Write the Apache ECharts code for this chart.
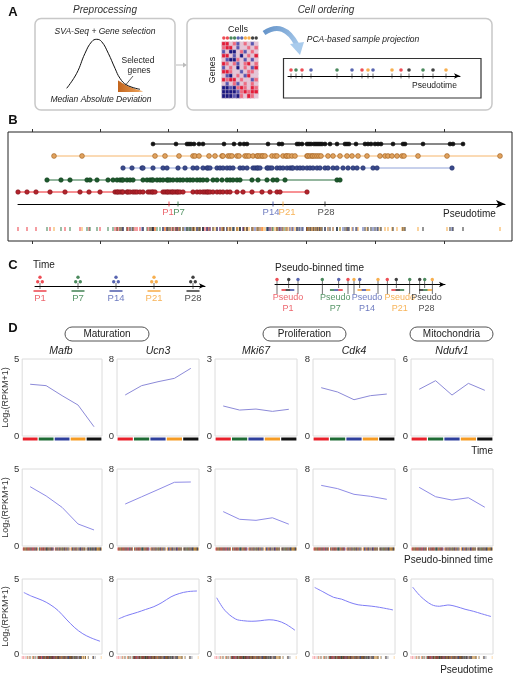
<!DOCTYPE html>
<html><head><meta charset="utf-8">
<script src="https://cdn.jsdelivr.net/npm/echarts@6/dist/echarts.min.js"></script>
<style>html,body{margin:0;padding:0;background:#fff}#c{width:516px;height:677px}</style>
</head><body><div id="c"></div>
<script>
const FONT = '"Liberation Sans", Arial, Helvetica, sans-serif';

// ---------------- DATA ----------------
const stages = ['P1', 'P7', 'P14', 'P21', 'P28'];
const stageColors = ['#e8202a', '#1e6b34', '#2e3f9c', '#f59b23', '#111111'];
const stageLabelColors = ['#e8404a', '#2a7a40', '#4a5ab0', '#f5a030', '#222222'];

// Panel B: pseudotime of every cell, per collection stage (axis units 0-487)
const ptP1 = [0,9,18,32,47,62,71,82,97,99,100,102,104,105,109,110,112,115,117,119,122,125,130,132,134,135,137,145,147,149,150,152,154,155,157,159,160,162,165,175,179,182,185,187,189,190,192,195,199,202,205,209,212,219,225,234,244,252,259,262,289];
const ptP7 = [29,43,52,69,72,79,90,95,99,102,104,105,109,112,115,125,129,132,134,135,139,142,145,149,150,152,155,159,162,165,169,172,175,179,182,185,189,195,199,204,209,212,215,219,222,234,240,249,255,259,267,319,322];
const ptP14 = [105,114,124,125,135,145,149,160,167,175,179,185,189,190,192,199,202,205,209,212,215,222,225,229,235,237,239,240,242,249,250,252,254,259,262,265,269,272,274,275,279,282,285,289,292,295,299,302,307,310,315,319,325,330,335,339,345,355,359,434];
const ptP21 = [36,64,137,147,161,175,177,181,191,197,204,205,210,212,214,219,221,227,229,231,235,239,240,242,244,245,247,254,257,259,265,268,269,271,274,277,289,290,292,294,295,297,299,301,303,310,315,322,329,334,340,349,362,367,370,374,379,384,386,400,429,482];
const ptP28 = [135,158,169,171,173,176,181,185,206,216,222,226,229,250,261,264,279,281,284,289,291,293,296,298,300,302,304,307,312,319,327,329,331,338,347,350,353,357,360,363,375,385,387,405,432,435,445];
const stagePt = [151, 160, 255, 265, 307];
const frameTickValues = [24, 92, 160, 229, 298, 367, 436];

// Panel A: MAD distribution
const bellX = [0.7, 10.7, 19, 25.7, 30.7, 35.7, 42.3, 49, 54, 60.7, 74];
const bellY = [3.7, 18.7, 38.7, 50.3, 52.7, 50.3, 38.7, 23.7, 13.7, 7, 2.7];
const tailX = [52, 54, 57, 60.7, 64, 68, 72, 77];
const tailY = [11.5, 10.5, 8.6, 6.6, 5.0, 3.6, 2.2, 0.6];
// Panel A: expression heatmap (genes x cells)
const heatRows = [
  [2,2,0,1,-1,0,1,0,-1,0],
  [1,2,2,0,-1,0,0,1,0,1],
  [-1,0,-2,-2,0,1,-1,0,1,0],
  [2,2,0,-1,0,-2,0,1,0,2],
  [0,-1,-2,-2,1,0,-1,0,-1,0],
  [2,1,0,1,-1,0,1,2,0,1],
  [-1,0,1,0,-2,0,1,0,-1,2],
  [2,2,1,0,0,-1,0,1,1,0],
  [0,-1,-2,0,1,0,-1,2,0,0],
  [2,1,2,2,0,1,0,0,-1,1],
  [0,-1,0,1,-1,0,1,0,1,0],
  [-2,-2,-1,-2,1,2,1,0,2,1],
  [-2,-2,-2,-2,-1,1,2,1,2,2],
  [-2,-2,-2,-1,-2,1,0,2,1,0]
];
const heatCellStage = [0,0,1,1,2,2,3,3,4,4];
const projPt = [3, 8, 14, 23, 49, 64, 74, 80, 85, 104, 113, 121, 135, 145, 158];
const projStage = [0, 1, 0, 2, 1, 2, 0, 3, 2, 3, 0, 4, 1, 4, 3];

// Panel C
const timeGroupPos = [5, 43, 81, 119, 158];
const binnedPt = [2, 13.7, 23, 47.3, 63.7, 73, 79, 84.7, 103, 112.3, 121.3, 134.7, 144.7, 149.7, 157.3];
const binnedStage = [0, 4, 2, 1, 2, 0, 3, 2, 3, 0, 4, 1, 4, 1, 3];

// Panel D
const genes = ['Mafb', 'Ucn3', 'Mki67', 'Cdk4', 'Ndufv1'];
const geneMax = [5, 8, 3, 8, 6];
const timeMafb = [3.36, 3.27, 2.62, 2.01, 0.60];
const timeUcn3 = [4.26, 5.23, 5.64, 5.99, 7.03];
const timeMki67 = [1.17, 1.01, 1.05, 0.96, 1.04];
const timeCdk4 = [5.02, 4.57, 3.77, 4.19, 4.36];
const timeNdufv1 = [3.64, 4.31, 3.19, 4.10, 3.56];
const binMafb = [3.85, 3.25, 2.51, 1.43, 1.04];
const binUcn3 = [4.36, 5.11, 5.86, 6.62, 6.65];
const binMki67 = [1.34, 1.04, 1.00, 1.10, 0.85];
const binCdk4 = [6.30, 5.96, 5.37, 5.16, 4.85];
const binNdufv1 = [4.57, 3.84, 3.58, 3.76, 3.02];
const curvePt = [10, 58, 122, 170, 219, 268, 321, 370, 419, 475];
const curveMafb = [4.1, 3.85, 3.58, 3.3, 2.9, 2.33, 1.75, 1.35, 1.08, 0.85];
const curveUcn3 = [3.75, 4.1, 4.45, 4.75, 5.05, 5.5, 6.1, 6.45, 6.65, 6.72];
const curveMki67 = [2.25, 1.75, 1.4, 1.33, 1.31, 1.33, 1.37, 1.33, 1.2, 0.95];
const curveCdk4 = [7.1, 6.65, 6.05, 5.85, 5.5, 5.25, 5.15, 5.05, 4.9, 4.7];
const curveNdufv1 = [5.35, 4.6, 3.95, 3.82, 3.92, 3.8, 3.58, 3.42, 3.22, 3.0];

const timeMeans = [timeMafb, timeUcn3, timeMki67, timeCdk4, timeNdufv1];
const binMeans = [binMafb, binUcn3, binMki67, binCdk4, binNdufv1];
const curves = [curveMafb, curveUcn3, curveMki67, curveCdk4, curveNdufv1];

// ---------------- BUILD ----------------
const grids = [], xAxes = [], yAxes = [], series = [], graphics = [], visualMaps = [];
function addGrid(g, xa, ya) {
  const gi = grids.length; grids.push(g);
  xa.gridIndex = gi; ya.gridIndex = gi;
  xAxes.push(xa); yAxes.push(ya);
  return { x: xAxes.length - 1, y: yAxes.length - 1 };
}
function vAxis(min, max, extra) {
  return Object.assign({ type: 'value', min, max, show: false, splitLine: { show: false } }, extra || {});
}
function cAxis(data, extra) {
  return Object.assign({ type: 'category', data, show: false }, extra || {});
}
function arrowAxis(min, max, sz) {
  return { type: 'value', min, max, show: true,
    axisLine: { show: true, onZero: true, symbol: ['none', 'arrow'], symbolSize: sz || [4, 6], lineStyle: { color: '#000', width: 1 } },
    axisTick: { show: false }, axisLabel: { show: false }, splitLine: { show: false } };
}
function txt(x, y, text, size, o) {
  o = o || {};
  graphics.push({ type: 'text', x, y, rotation: o.rot || 0, z: 100,
    style: { text, fontSize: size, fontFamily: FONT, fontStyle: o.italic ? 'italic' : 'normal',
      fontWeight: o.bold ? 'bold' : 'normal', fill: o.color || '#222',
      align: o.align || 'center', verticalAlign: 'middle', textAlign: o.align || 'center', textVerticalAlign: 'middle' } });
}

// ===== Panel A =====
txt(13, 12.5, 'A', 13, { bold: true, color: '#111' });
txt(105, 10, 'Preprocessing', 10, { italic: true, color: '#333' });
txt(326, 10, 'Cell ordering', 10, { italic: true, color: '#333' });
graphics.push({ type: 'rect', shape: { x: 35, y: 18.5, width: 140, height: 91.5, r: 6 }, style: { fill: 'none', stroke: '#c8c8c8', lineWidth: 1.5 } });
graphics.push({ type: 'rect', shape: { x: 187, y: 18.5, width: 305, height: 91.5, r: 6 }, style: { fill: 'none', stroke: '#c8c8c8', lineWidth: 1.5 } });
graphics.push({ type: 'line', shape: { x1: 176, y1: 65, x2: 184, y2: 65 }, style: { stroke: '#bbb', lineWidth: 1 } });
graphics.push({ type: 'polygon', shape: { points: [[183, 62.5], [187, 65], [183, 67.5]] }, style: { fill: '#bbb' } });
txt(105, 32, 'SVA-Seq + Gene selection', 8.5, { italic: true });
txt(138, 61, 'Selected', 8.5);
txt(139, 71, 'genes', 8.5);
graphics.push({ type: 'line', shape: { x1: 133, y1: 76, x2: 124, y2: 87 }, style: { stroke: '#333', lineWidth: 0.8 } });
txt(101, 100, 'Median Absolute Deviation', 8.5, { italic: true });
txt(238, 30, 'Cells', 9);
txt(212.5, 70, 'Genes', 9, { rot: Math.PI / 2 });
txt(363, 39.5, 'PCA-based sample projection', 8.5, { italic: true });
graphics.push({ type: 'bezierCurve', shape: { x1: 264, y1: 33, cpx1: 284, cpy1: 20, x2: 297, y2: 45 },
  style: { stroke: { type: 'linear', x: 0, y: 0, x2: 1, y2: 1, colorStops: [{ offset: 0, color: '#5f8fc6' }, { offset: 1, color: '#a9cbec' }] }, lineWidth: 5, fill: 'none' } });
graphics.push({ type: 'polygon', shape: { points: [[290, 44], [304, 42], [300, 55]] }, style: { fill: '#a9cbec' } });
graphics.push({ type: 'rect', shape: { x: 283.5, y: 58.5, width: 197.5, height: 39.5 }, style: { fill: 'none', stroke: '#333', lineWidth: 1.2 } });
txt(412, 86, 'Pseudotime', 8.5, { align: 'left' });

// bell curve
let ax = addGrid({ left: 66, top: 38, width: 80, height: 54 }, vAxis(0, 80), vAxis(0, 54));
series.push({ type: 'line', xAxisIndex: ax.x, yAxisIndex: ax.y, smooth: 0.4, symbol: 'none', z: 2,
  data: tailX.map((x, i) => [x, tailY[i]]), lineStyle: { width: 0 },
  areaStyle: { opacity: 1, color: { type: 'linear', x: 0, y: 0, x2: 1, y2: 0, colorStops: [{ offset: 0, color: '#c2641c' }, { offset: 1, color: '#f0a65c' }] } } });
series.push({ type: 'line', xAxisIndex: ax.x, yAxisIndex: ax.y, smooth: 0.45, symbol: 'none', z: 3,
  data: bellX.map((x, i) => [x, bellY[i]]), lineStyle: { color: '#111', width: 1 } });

// heatmap
const colIdx = heatRows[0].map((_, i) => i);
const rowIdx = heatRows.map((_, i) => i);
ax = addGrid({ left: 222, top: 42, width: 36, height: 56 }, cAxis(colIdx), cAxis(rowIdx, { inverse: true }));
const heatData = [];
heatRows.forEach((r, ri) => r.forEach((v, ci) => heatData.push([ci, ri, v])));
visualMaps.push({ type: 'continuous', min: -2, max: 2, show: false, seriesIndex: series.length,
  inRange: { color: ['#1b1880', '#5a56b0', '#e6c4d6', '#ee6a80', '#e31c38'] } });
series.push({ type: 'heatmap', xAxisIndex: ax.x, yAxisIndex: ax.y, data: heatData,
  itemStyle: { borderColor: 'rgba(225,205,218,0.9)', borderWidth: 0.5 } });
ax = addGrid({ left: 222, top: 36.5, width: 36, height: 3 }, cAxis(colIdx), vAxis(0, 1));
series.push({ type: 'scatter', xAxisIndex: ax.x, yAxisIndex: ax.y, symbolSize: 3.4, clip: false,
  data: heatCellStage.map((s, i) => ({ value: [i, 0.5], itemStyle: { color: stageColors[s] } })) });

// projection axis
ax = addGrid({ left: 288, top: 66, width: 172, height: 10 }, arrowAxis(0, 172), vAxis(0, 10));
series.push({ type: 'scatter', xAxisIndex: ax.x, yAxisIndex: ax.y, symbol: 'rect', symbolSize: [0.8, 5], clip: false,
  itemStyle: { color: '#222' }, data: projPt.map(p => [p, 0]) });
series.push({ type: 'scatter', xAxisIndex: ax.x, yAxisIndex: ax.y, symbolSize: 3.6, symbolOffset: [0, -6], clip: false,
  data: projPt.map((p, i) => ({ value: [p, 0], itemStyle: { color: stageColors[projStage[i]] } })) });

// ===== Panel B =====
txt(13, 120, 'B', 13, { bold: true, color: '#111' });
grids.push({ left: 8, top: 132, width: 504, height: 109, show: true, borderColor: '#222', borderWidth: 1 });
const fgi = grids.length - 1;
[['bottom'], ['top']].forEach(([pos]) => xAxes.push({ type: 'value', gridIndex: fgi, position: pos, min: 0, max: 504, show: true,
  axisLine: { show: false }, axisLabel: { show: false }, splitLine: { show: false },
  axisTick: { show: true, length: 3, customValues: frameTickValues, lineStyle: { color: '#333', width: 1 } } }));
yAxes.push(vAxis(0, 1, { gridIndex: fgi }));

ax = addGrid({ left: 18, top: 132, width: 487, height: 108 }, arrowAxis(0, 487, [6, 9]), vAxis(-3, 6));
const stagePts = [ptP1, ptP7, ptP14, ptP21, ptP28];
const rowStyle = [
  { line: '#f0242a', fill: '#b3242c', border: '#7d1119', size: 4.5 },
  { line: '#2a6e3e', fill: '#1e5a2e', border: '#11401d', size: 4.5 },
  { line: '#90a2d8', fill: '#3b4b8c', border: '#1f2b66', size: 4.5 },
  { line: '#f6b56a', fill: '#e0a25e', border: '#9c5c1c', size: 4.8 },
  { line: '#111111', fill: '#111111', border: '#111111', size: 4 }
];
stagePts.forEach((arr, s) => {
  const st = rowStyle[s];
  series.push({ type: 'line', xAxisIndex: ax.x, yAxisIndex: ax.y, data: arr.slice().sort((a, b) => a - b).map(p => [p, s + 1]),
    symbol: 'circle', symbolSize: st.size, showSymbol: true, showAllSymbol: true, clip: false,
    lineStyle: { color: st.line, width: 1 }, itemStyle: { color: st.fill, borderColor: st.border, borderWidth: 0.6 } });
});
const allCells = [];
stagePts.forEach((arr, s) => arr.forEach(p => allCells.push([p, s])));
allCells.sort((a, b) => a[0] - b[0]);
series.push({ type: 'scatter', xAxisIndex: ax.x, yAxisIndex: ax.y, symbol: 'rect', symbolSize: [1.1, 4], symbolOffset: [0, 25], clip: false,
  data: allCells.map(c => ({ value: [c[0], 0], itemStyle: { color: stageColors[c[1]] } })) });
const stageLabelShift = [-1, 1, -2, 4, 1];
series.push({ type: 'scatter', xAxisIndex: ax.x, yAxisIndex: ax.y, symbol: 'rect', symbolSize: [1, 5], clip: false, z: 5,
  data: stagePt.map((p, i) => ({ value: [p, 0], itemStyle: { color: stageColors[i] },
    label: { show: true, formatter: stages[i], position: 'bottom', distance: 1, offset: [stageLabelShift[i], 0], color: stageLabelColors[i], fontSize: 9.5, fontFamily: FONT } })) });
txt(443, 214, 'Pseudotime', 10, { align: 'left' });

// ===== Panel C =====
txt(13, 265.5, 'C', 13, { bold: true, color: '#111' });
txt(33, 265.5, 'Time', 10, { align: 'left' });
ax = addGrid({ left: 35, top: 275, width: 170, height: 11 }, arrowAxis(0, 170), vAxis(0, 11));
series.push({ type: 'scatter', xAxisIndex: ax.x, yAxisIndex: ax.y, symbol: 'rect', symbolSize: [0.8, 6], clip: false,
  itemStyle: { color: '#222' }, data: timeGroupPos.map(p => [p, 0]) });
[[-2.3, -4.3], [2.3, -4.3], [0, -8.7]].forEach(off => series.push({ type: 'scatter', xAxisIndex: ax.x, yAxisIndex: ax.y,
  symbolSize: 3.4, symbolOffset: off, clip: false,
  data: timeGroupPos.map((p, i) => ({ value: [p, 0], itemStyle: { color: stageColors[i] } })) }));
series.push({ type: 'scatter', xAxisIndex: ax.x, yAxisIndex: ax.y, symbol: 'rect', symbolSize: [13, 1.6], symbolOffset: [0, 5], clip: false,
  data: timeGroupPos.map((p, i) => ({ value: [p, 0], itemStyle: { color: stageColors[i] },
    label: { show: true, formatter: stages[i], position: 'bottom', distance: 2, color: stageLabelColors[i], fontSize: 9.5, fontFamily: FONT } })) });

txt(275, 268, 'Pseudo-binned time', 10, { align: 'left' });
ax = addGrid({ left: 275, top: 274, width: 170, height: 10.5 }, arrowAxis(0, 170), vAxis(0, 10.5));
series.push({ type: 'scatter', xAxisIndex: ax.x, yAxisIndex: ax.y, symbol: 'rect', clip: false, itemStyle: { color: '#222' },
  data: binnedPt.map((p, k) => { const edge = (k % 3) !== 1; return { value: [p, 0], symbolSize: edge ? [0.8, 13] : [0.8, 7], symbolOffset: edge ? [0, 3] : [0, 0] }; }) });
series.push({ type: 'scatter', xAxisIndex: ax.x, yAxisIndex: ax.y, symbolSize: 3.4, symbolOffset: [0, -5], clip: false,
  data: binnedPt.map((p, k) => ({ value: [p, 0], itemStyle: { color: stageColors[binnedStage[k]] } })) });
const binLabelShift = [0, -1, 3, 2, 1];
const binSeg = [];
for (let b = 0; b < 5; b++) {
  const idx = [3 * b, 3 * b + 1, 3 * b + 2];
  const mean = idx.reduce((s, k) => s + binnedPt[k], 0) / 3;
  idx.forEach((k, j) => binSeg.push({ value: [mean, 0], symbolOffset: [(j - 1) * 4.2, 5.5], itemStyle: { color: stageColors[binnedStage[k]] },
    label: j === 1 ? { show: true, formatter: 'Pseudo\n' + stages[b], position: 'bottom', distance: 1.5, offset: [binLabelShift[b], 0], color: stageLabelColors[b], fontSize: 9, lineHeight: 11, fontFamily: FONT, align: 'center' } : { show: false } }));
}
series.push({ type: 'scatter', xAxisIndex: ax.x, yAxisIndex: ax.y, symbol: 'rect', symbolSize: [4.4, 1.8], clip: false, data: binSeg });

// ===== Panel D =====
txt(13, 328, 'D', 13, { bold: true, color: '#111' });
[['Maturation', 65, 84], ['Proliferation', 263, 83], ['Mitochondria', 410, 83]].forEach(([t, x, w]) => {
  graphics.push({ type: 'rect', shape: { x, y: 327, width: w, height: 14, r: 7 }, style: { fill: '#fff', stroke: '#555', lineWidth: 1 } });
  txt(x + w / 2, 334, t, 10, { color: '#222' });
});
const colLeft = [20, 117, 215, 313, 411];
const PW = 82;
const rowTop = [359, 469, 579];
const rowH = [77, 77, 75];
const lineCol = ['#8c8ad8', '#8f8ce6', '#7e7cf6'];
genes.forEach((g, gi) => txt(colLeft[gi] + PW / 2, 351, g, 10.5, { italic: true, color: '#222' }));

const nCells = allCells.length;
const stripeData = [];
for (let b = 0; b < 5; b++) {
  const s0 = Math.floor(b * nCells / 5), s1 = Math.floor((b + 1) * nCells / 5);
  for (let k = s0; k < s1; k++) stripeData.push([b, 0, k - s0, s1 - s0, allCells[k][1]]);
}

for (let r = 0; r < 3; r++) {
  for (let gi = 0; gi < 5; gi++) {
    const yA = { type: 'value', min: 0, max: geneMax[gi], interval: geneMax[gi], show: true,
      axisLine: { show: false }, axisTick: { show: false }, splitLine: { show: false },
      axisLabel: { fontSize: 9.5, color: '#333', margin: 3, fontFamily: FONT } };
    if (gi === 0) Object.assign(yA, { name: 'Log{sub|2}(RPKM+1)', nameLocation: 'middle', nameGap: 8, nameRotate: 90,
      nameTextStyle: { fontSize: 9, color: '#333', fontFamily: FONT, rich: { sub: { fontSize: 6, verticalAlign: 'bottom', fontFamily: FONT, color: '#333' } } } });
    const xA = r < 2 ? cAxis(stages) : vAxis(0, 487);
    const a = addGrid({ left: colLeft[gi], top: rowTop[r], width: PW, height: rowH[r], show: true, borderColor: '#dcdcdc', borderWidth: 1 }, xA, yA);
    if (r === 0) {
      series.push({ type: 'line', xAxisIndex: a.x, yAxisIndex: a.y, symbol: 'none', data: timeMeans[gi], lineStyle: { color: lineCol[0], width: 1 } });
      series.push({ type: 'custom', xAxisIndex: a.x, yAxisIndex: a.y, clip: false, silent: true,
        data: stages.map((s, i) => [i, 0, i]),
        renderItem: (p, api) => { const c = api.coord([api.value(0), 0]); const w = api.size([1, 0])[0];
          return { type: 'rect', shape: { x: c[0] - w / 2 + 0.6, y: c[1] + 1.5, width: w - 1.2, height: 3 }, style: { fill: stageColors[api.value(2)] } }; } });
    } else if (r === 1) {
      series.push({ type: 'line', xAxisIndex: a.x, yAxisIndex: a.y, symbol: 'none', data: binMeans[gi], lineStyle: { color: lineCol[1], width: 1 } });
      series.push({ type: 'custom', xAxisIndex: a.x, yAxisIndex: a.y, clip: false, silent: true, data: stripeData,
        renderItem: (p, api) => { const c = api.coord([api.value(0), 0]); const w = api.size([1, 0])[0]; const sw = w - 1.2;
          const n = api.value(3), k = api.value(2);
          return { type: 'rect', shape: { x: c[0] - w / 2 + 0.6 + sw * k / n, y: c[1] + 1.5, width: sw / n + 0.2, height: 3 }, style: { fill: stageColors[api.value(4)], opacity: 0.8 } }; } });
    } else {
      series.push({ type: 'line', xAxisIndex: a.x, yAxisIndex: a.y, symbol: 'none', smooth: 0.35,
        data: curvePt.map((x, i) => [x, curves[gi][i]]), lineStyle: { color: lineCol[2], width: 1 } });
      series.push({ type: 'custom', xAxisIndex: a.x, yAxisIndex: a.y, clip: false, silent: true,
        data: allCells.map(c => [c[0], 0, c[1]]),
        renderItem: (p, api) => { const c = api.coord([api.value(0), 0]);
          return { type: 'rect', shape: { x: c[0] - 0.4, y: c[1] + 2, width: 0.8, height: 3 }, style: { fill: stageColors[api.value(2)], opacity: 0.45 } }; } });
    }
  }
}
txt(493, 451, 'Time', 10, { align: 'right' });
txt(493, 560, 'Pseudo-binned time', 10, { align: 'right' });
txt(493, 670, 'Pseudotime', 10, { align: 'right' });

const chart = echarts.init(document.getElementById('c'), null, { renderer: 'canvas' });
chart.setOption({
  animation: false,
  backgroundColor: '#fff',
  textStyle: { fontFamily: FONT },
  grid: grids, xAxis: xAxes, yAxis: yAxes, series, visualMap: visualMaps, graphic: graphics
});
</script>
</body></html>
